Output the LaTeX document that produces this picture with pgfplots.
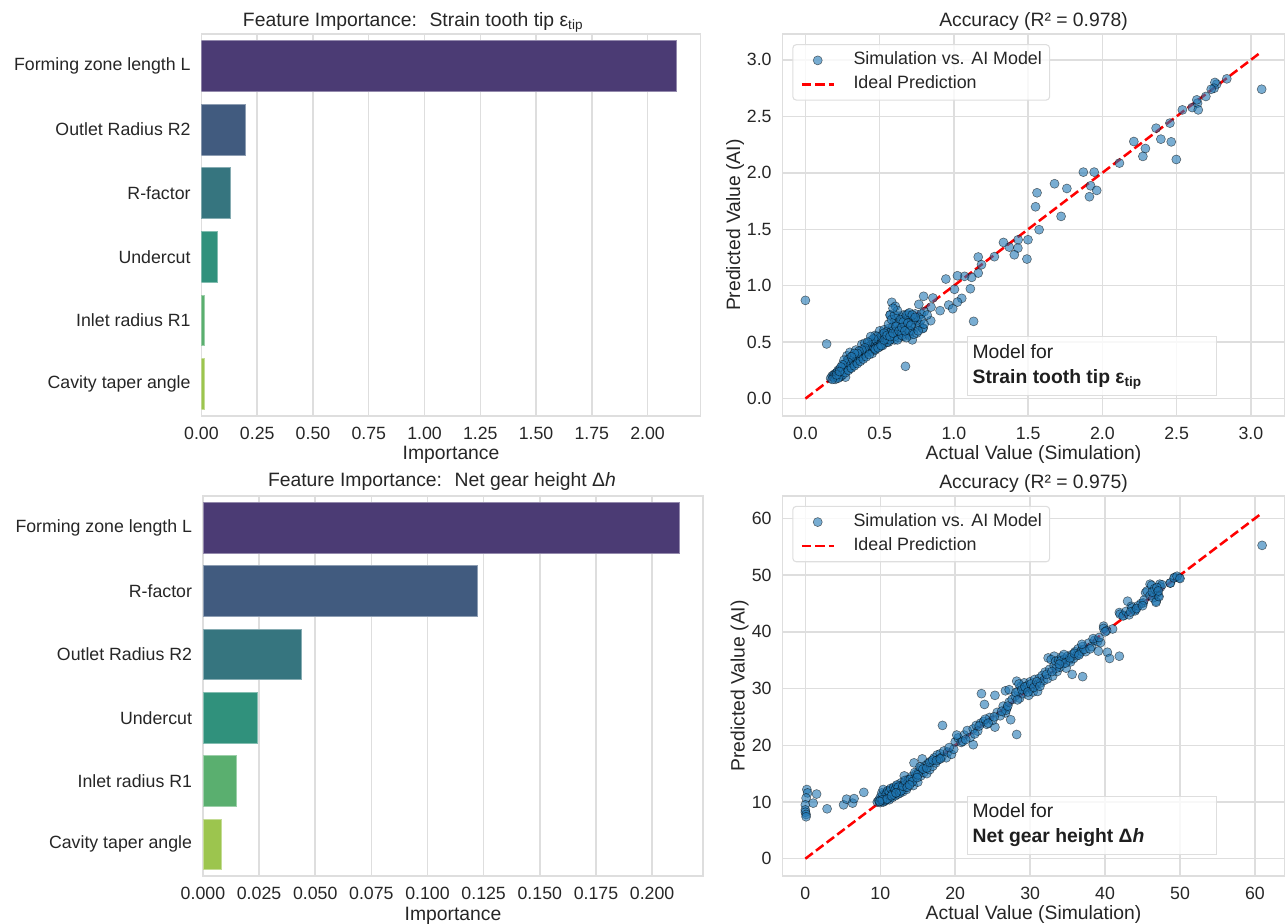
\documentclass[border=0pt]{standalone}
\usepackage{fontspec}
\setmainfont{Liberation Sans}
\usepackage{pgfplots}
\pgfplotsset{compat=1.18}
\definecolor{txt}{gray}{0.15}
\definecolor{gridc}{gray}{0.87}
\definecolor{mblue}{HTML}{1F77B4}
\definecolor{b1}{HTML}{4B3B74}
\definecolor{b2}{HTML}{415B7F}
\definecolor{b3}{HTML}{36757F}
\definecolor{b4}{HTML}{30917C}
\definecolor{b5}{HTML}{5AAF6F}
\definecolor{b6}{HTML}{9CC54E}
\tikzset{
 annbox/.style={draw=gridc, line width=0.8pt, fill=white, fill opacity=0.8, text opacity=1,
   anchor=south west, minimum width=187pt, minimum height=44pt, inner sep=0pt},
 anntext/.style={anchor=base west, inner sep=0pt, font=\fontsize{14.5}{17}\selectfont, text=black!88},
}
\pgfplotsset{
 base/.style={scale only axis, anchor=south west,
   axis line style={draw=gridc, line width=1.2pt},
   major tick length=0pt,
   grid style={draw=gridc, line width=1.1pt},
   tick label style={font=\fontsize{13.3}{16}\selectfont, text=txt},
   x tick label style={anchor=base, inner sep=0pt, yshift=-17.5pt},
   y tick label style={anchor=east, inner sep=0pt, xshift=-8pt},
   label style={font=\fontsize{14.5}{17}\selectfont, text=txt},
   xlabel style={at={(axis description cs:0.5,0)}, anchor=base, yshift=-33pt},
   title style={font=\fontsize{14.5}{17}\selectfont, text=txt},
   /pgf/number format/assume math mode=true,
   scaled x ticks=false, scaled y ticks=false,
 },
 barax/.style={base, xbar, bar width=0.8, bar shift=0pt,
   ymin=-0.5, ymax=5.5, y dir=reverse, xmin=0, xmajorgrids,
   ytick={0,1,2,3,4,5}, xlabel={Importance}},
 scat/.style={base, grid=major,
   xlabel={Actual Value (Simulation)}, ylabel={Predicted Value (AI)},
   title style={at={(axis description cs:0.5,1)}, anchor=base, yshift=-0.5pt},
   legend cell align=left,
   legend style={at={(axis description cs:0.0195,0.974)}, anchor=north west,
     draw=gridc, line width=0.8pt, rounded corners=2.5pt, fill=white,
     fill opacity=0.8, text opacity=1, draw opacity=1,
     font=\fontsize{13.4}{16}\selectfont, text=txt,
     inner xsep=5.8pt, inner ysep=5.5pt, row sep=5.5pt, column sep=14pt,
     nodes={inner sep=0pt, text height=9.6pt, text depth=2.9pt}},
   legend image code/.code={\draw[mark repeat=2,mark phase=2,#1] plot coordinates {(0pt,0pt) (11.9pt,0pt) (23.8pt,0pt)};}},
 pts/.style={only marks, mark=*, mark size=3.4pt,
   mark options={fill=mblue, fill opacity=0.6, draw=black, draw opacity=0.55, line width=0.4pt}},
 ideal/.style={draw=red, line width=1.9pt, dash pattern=on 7pt off 3pt},
}
\begin{document}
\begin{tikzpicture}
\useasboundingbox (0pt,0pt) rectangle (964.5pt,693pt);

% ---------- top left: feature importance (strain) ----------
\begin{axis}[barax, at={(151.1pt,381.2pt)}, width=374.4pt, height=286.1pt,
  xmax=2.238,
  xtick={0,0.25,0.5,0.75,1,1.25,1.5,1.75,2},
  xticklabel style={/pgf/number format/.cd, fixed, fixed zerofill, precision=2},
  yticklabels={Forming zone length L, Outlet Radius R2, R-factor, Undercut, Inlet radius R1, Cavity taper angle},
  title={Feature Importance:~ Strain tooth tip ε\textsubscript{tip}},
  title style={at={(axis description cs:0.0737,1)}, anchor=base west, yshift=-0.3pt}]
\addplot[fill=b1, draw=b1!60!white, line width=0.5pt] coordinates {(2.131,0)};
\addplot[fill=b2, draw=b2!60!white, line width=0.5pt] coordinates {(0.198,1)};
\addplot[fill=b3, draw=b3!60!white, line width=0.5pt] coordinates {(0.129,2)};
\addplot[fill=b4, draw=b4!60!white, line width=0.5pt] coordinates {(0.069,3)};
\addplot[fill=b5, draw=b5!60!white, line width=0.5pt] coordinates {(0.012,4)};
\addplot[fill=b6, draw=b6!60!white, line width=0.5pt] coordinates {(0.011,5)};
\end{axis}

% ---------- bottom left: feature importance (gear height) ----------
\begin{axis}[barax, at={(152.2pt,36.0pt)}, width=375.1pt, height=284.9pt,
  xmax=0.2227,
  xtick={0,0.025,0.05,0.075,0.1,0.125,0.15,0.175,0.2},
  xticklabel style={/pgf/number format/.cd, fixed, fixed zerofill, precision=3},
  yticklabels={Forming zone length L, R-factor, Outlet Radius R2, Undercut, Inlet radius R1, Cavity taper angle},
  title={Feature Importance:~ Net gear height Δ\textit{h}},
  title style={at={(axis description cs:0.1208,1)}, anchor=base west, yshift=1.5pt}]
\addplot[fill=b1, draw=b1!60!white, line width=0.5pt] coordinates {(0.2120,0)};
\addplot[fill=b2, draw=b2!60!white, line width=0.5pt] coordinates {(0.1220,1)};
\addplot[fill=b3, draw=b3!60!white, line width=0.5pt] coordinates {(0.0438,2)};
\addplot[fill=b4, draw=b4!60!white, line width=0.5pt] coordinates {(0.0243,3)};
\addplot[fill=b5, draw=b5!60!white, line width=0.5pt] coordinates {(0.0148,4)};
\addplot[fill=b6, draw=b6!60!white, line width=0.5pt] coordinates {(0.0083,5)};
\end{axis}

% ---------- top right: accuracy (strain) ----------
\begin{axis}[scat, at={(586.9pt,381.0pt)}, width=376.5pt, height=286.3pt,
  xmin=-0.154, xmax=3.227, ymin=-0.154, ymax=3.227,
  xtick={0,0.5,1,1.5,2,2.5,3}, ytick={0,0.5,1,1.5,2,2.5,3},
  xticklabel style={/pgf/number format/.cd, fixed, fixed zerofill, precision=1},
  yticklabel style={/pgf/number format/.cd, fixed, fixed zerofill, precision=1},
  ylabel style={at={(axis description cs:-0.0847,0.5)}, anchor=base},
  title={Accuracy (R² = 0.978)}]
\addplot[pts] coordinates {
(0.000,0.870) (0.143,0.484) (0.674,0.286) (1.133,0.684) (3.073,2.740) (2.838,2.832)
(2.770,2.785) (2.758,2.800) (2.753,2.749) (2.733,2.740) (2.697,2.676) (2.605,2.578)
(2.641,2.617) (2.646,2.557) (2.636,2.646) (2.539,2.557) (2.455,2.440) (2.362,2.395)
(2.394,2.298) (2.464,2.274) (2.498,2.118) (2.212,2.277) (2.290,2.215) (2.273,2.145)
(2.115,2.086) (1.872,2.006) (1.945,2.006) (1.921,1.885) (1.962,1.844) (1.913,1.788)
(1.678,1.903) (1.761,1.861) (1.560,1.823) (1.550,1.699) (1.574,1.496) (1.722,1.614)
(1.499,1.407) (1.492,1.236) (1.433,1.407) (1.431,1.333) (1.407,1.274) (1.373,1.342)
(1.334,1.383) (1.273,1.257) (1.164,1.254) (1.186,1.186) (1.164,1.112) (1.120,1.074)
(1.072,1.083) (1.024,1.088) (1.111,0.973) (1.004,0.968) (0.946,1.059) (1.053,0.888)
(1.024,0.855) (0.965,0.829) (0.992,0.796) (0.907,0.779) (0.846,0.811) (0.796,0.906)
(0.764,0.835) (0.844,0.690) (0.793,0.625) (0.859,0.891) (0.582,0.853) (0.606,0.817)
(0.572,0.743)
(0.17,0.18) (0.18,0.20) (0.19,0.19) (0.19,0.21) (0.20,0.20) (0.20,0.22) (0.21,0.19)
(0.21,0.23) (0.22,0.21) (0.22,0.25) (0.23,0.22) (0.23,0.26) (0.24,0.24) (0.24,0.20)
(0.25,0.27) (0.25,0.23) (0.26,0.25) (0.26,0.30) (0.27,0.19) (0.27,0.28) (0.28,0.26)
(0.28,0.33) (0.28,0.38) (0.29,0.29) (0.29,0.35) (0.30,0.27) (0.30,0.41) (0.31,0.32)
(0.31,0.29) (0.32,0.34) (0.32,0.38) (0.33,0.31) (0.33,0.36) (0.34,0.33) (0.34,0.43)
(0.35,0.37) (0.35,0.34) (0.36,0.39) (0.36,0.35) (0.37,0.40) (0.37,0.37) (0.38,0.48)
(0.38,0.39) (0.39,0.42) (0.39,0.37) (0.40,0.49) (0.40,0.41) (0.41,0.44) (0.41,0.40)
(0.42,0.46) (0.42,0.42) (0.43,0.50) (0.43,0.44) (0.44,0.47) (0.44,0.42) (0.45,0.52)
(0.45,0.45) (0.46,0.49) (0.46,0.44) (0.47,0.56) (0.47,0.48) (0.48,0.51) (0.48,0.46)
(0.49,0.53) (0.49,0.48) (0.50,0.60) (0.50,0.51) (0.51,0.55) (0.51,0.49) (0.52,0.57)
(0.52,0.52) (0.53,0.61) (0.53,0.49) (0.54,0.55) (0.54,0.51) (0.55,0.59) (0.55,0.53)
(0.56,0.62) (0.56,0.50) (0.57,0.57) (0.57,0.74) (0.58,0.60) (0.58,0.53) (0.59,0.64)
(0.59,0.56) (0.60,0.68) (0.60,0.52) (0.61,0.60) (0.61,0.71) (0.62,0.58) (0.62,0.66)
(0.63,0.54) (0.63,0.73) (0.64,0.62) (0.64,0.57) (0.65,0.69) (0.65,0.60) (0.66,0.74)
(0.66,0.55) (0.67,0.64) (0.67,0.71) (0.68,0.58) (0.68,0.70) (0.69,0.62) (0.69,0.75)
(0.70,0.56) (0.70,0.68) (0.71,0.73) (0.71,0.60) (0.72,0.66) (0.72,0.52) (0.73,0.70)
(0.74,0.63) (0.74,0.75) (0.75,0.58) (0.75,0.69) (0.76,0.72) (0.77,0.65) (0.78,0.75)
(0.79,0.62) (0.80,0.77) (0.82,0.74)
(0.45,0.40) (0.47,0.43) (0.50,0.46) (0.52,0.47) (0.55,0.50) (0.57,0.52) (0.60,0.55)
(0.62,0.52) (0.65,0.56) (0.68,0.54) (0.70,0.60) (0.73,0.57) (0.76,0.60) (0.78,0.70)
(0.80,0.66) (0.56,0.66) (0.58,0.70) (0.60,0.74) (0.62,0.78) (0.59,0.80) (0.64,0.70)
(0.66,0.68) (0.68,0.74) (0.70,0.76) (0.72,0.74) (0.74,0.72) (0.53,0.58) (0.48,0.55)
(0.46,0.53) (0.44,0.55) (0.42,0.50) (0.40,0.45) (0.38,0.43) (0.36,0.42) (0.35,0.40)
(0.33,0.40) (0.31,0.37) (0.29,0.32) (0.27,0.31) (0.26,0.34) (0.25,0.30) (0.24,0.28)
(0.23,0.19) (0.25,0.21) (0.27,0.23) (0.29,0.25) (0.31,0.27) (0.33,0.29) (0.35,0.31)
(0.37,0.33) (0.39,0.35) (0.41,0.37) (0.43,0.39) (0.47,0.44) (0.49,0.45) (0.51,0.47)
(0.53,0.52) (0.55,0.56) (0.57,0.55) (0.59,0.58) (0.61,0.64) (0.63,0.60) (0.65,0.63)
(0.67,0.60) (0.69,0.67) (0.71,0.65) (0.20,0.17) (0.22,0.18) (0.18,0.17) (0.21,0.21)
(0.23,0.24)
};
\addlegendentry{Simulation vs. AI Model}
\addplot[ideal] coordinates {(0,0) (3.073,3.073)};
\addlegendentry{Ideal Prediction}
\node[annbox] (a1) at (axis description cs:0.367,0.052) {};
\node[anntext] at ([xshift=4.2pt,yshift=-16.5pt]a1.north west) {Model for};
\node[anntext] at ([xshift=4.2pt,yshift=-35.2pt]a1.north west) {\bfseries Strain tooth tip ε\textsubscript{tip}};
\end{axis}

% ---------- bottom right: accuracy (gear height) ----------
\begin{axis}[scat, at={(586.9pt,36.0pt)}, width=376.5pt, height=285pt,
  xmin=-3.045, xmax=63.945, ymin=-3.045, ymax=63.945,
  xtick={0,10,20,30,40,50,60}, ytick={0,10,20,30,40,50,60},
  ylabel style={at={(axis description cs:-0.0757,0.5)}, anchor=base},
  title={Accuracy (R² = 0.975)}]
\addplot[pts] coordinates {
(60.95,55.24) (0.2,12.2) (0.3,11.6) (0.1,10.7) (0.0,9.5) (0.0,8.6) (0.0,8.2) (0.1,7.8)
(0.1,7.4) (1.05,9.8) (1.5,11.4) (2.9,8.8) (5.1,9.5) (5.5,10.5) (6.3,9.8) (6.5,10.6)
(7.8,11.7) (18.3,23.5) (28.2,21.9) (22.4,20.1) (25.3,23.2) (23.5,29.1) (23.9,27.2)
(25.3,28.8) (26.7,29.6) (27.2,29.8) (26.7,25.7) (27.4,24.5) (26.9,26.6) (37.0,32.1)
(35.6,32.5) (39.1,36.6) (40.3,36.4) (40.6,35.3) (41.9,35.7) (41.0,40.5) (39.8,41.0)
(32.4,35.4) (33.2,35.7) (49.9,49.5) (49.3,49.6) (48.7,48.6) (47.3,48.4) (46.0,48.4)
(45.4,46.9) (46.6,46.6) (46.8,45.4) (47.1,46.3) (45.1,45.1) (43.0,45.4) (43.5,44.5)
(44.0,43.9) (41.9,43.4) (42.5,42.9)
(9.6,10.0) (9.8,10.3) (10.0,9.9) (10.1,10.5) (10.2,10.2) (10.3,11.2) (10.4,10.0)
(10.5,10.7) (10.6,11.5) (10.7,10.3) (10.8,10.9) (10.9,11.8) (11.0,10.6) (11.1,11.2)
(11.2,10.4) (11.3,12.1) (11.4,11.0) (11.5,11.6) (11.6,10.8) (11.7,12.3) (11.8,11.3)
(11.9,12.0) (12.0,11.1) (12.1,12.5) (12.2,11.7) (12.3,12.9) (12.4,11.4) (12.5,12.2)
(12.6,12.8) (12.7,11.9) (12.8,13.4) (12.9,12.4) (13.0,11.8) (13.1,13.0) (13.2,14.6)
(13.3,12.6) (13.4,13.6) (13.5,12.2) (13.6,13.2) (13.8,14.0) (14.0,13.3) (14.2,14.5)
(14.4,12.9) (14.5,16.9) (14.6,14.2) (14.8,15.0) (15.0,13.5) (15.2,15.5) (15.4,14.6)
(15.5,16.0) (15.6,17.6) (15.8,15.2) (16.0,16.4) (16.2,15.0) (16.4,16.8) (16.6,15.7)
(16.8,17.2) (17.0,16.3) (17.2,17.8) (17.4,16.9) (17.6,18.3) (17.8,17.5) (18.0,18.5)
(18.2,17.9) (18.5,19.0) (18.8,17.8) (19.0,18.8) (19.5,18.4) (20.0,20.6) (20.4,21.3)
(20.8,20.5) (21.2,21.8) (21.6,22.6) (22.0,21.4) (22.4,22.9) (22.8,23.5) (23.0,22.5)
(23.4,23.9) (23.8,24.2) (24.2,23.7) (24.6,24.9) (25.0,24.4) (25.6,25.8) (26.0,25.2)
(26.4,26.9) (26.8,26.2) (27.2,27.6) (27.6,28.1) (28.0,28.7) (28.2,31.3) (28.4,29.5)
(28.6,28.3) (28.8,30.4) (29.0,29.1) (29.2,31.0) (29.4,29.8) (29.6,30.5) (29.8,28.8)
(30.0,31.2) (30.2,30.0) (30.4,29.4) (30.6,31.6) (30.8,30.6) (31.0,29.5) (31.2,31.8)
(31.4,31.0) (31.6,32.3) (31.8,31.4) (32.0,32.9) (32.3,31.7) (32.6,33.4) (32.8,35.1)
(33.0,32.2) (33.2,34.0) (33.4,34.8) (33.6,33.0) (33.8,35.0) (34.0,33.8) (34.2,35.6)
(34.4,34.4) (34.6,35.2) (34.8,33.6) (35.0,35.7) (35.2,35.0) (35.4,34.7) (35.6,36.0)
(35.8,35.3) (36.0,36.5) (36.2,35.8) (36.4,37.0) (36.6,36.2) (36.8,36.6) (37.0,37.4)
(37.4,36.5) (37.8,38.0) (38.2,37.4) (38.6,38.5) (39.0,38.3) (39.4,38.1) (39.8,40.6)
(40.2,40.2) (42.0,43.1) (42.4,42.8) (42.8,43.6) (43.2,43.0) (43.6,44.2) (44.0,43.7)
(44.4,44.6) (44.8,45.0) (45.2,45.6) (45.6,47.2) (46.0,46.4) (46.2,48.2) (46.4,46.0)
(46.6,47.6) (46.8,45.2) (47.0,46.9) (47.2,46.2) (47.4,47.9) (47.6,48.3) (48.7,48.6)
(49.2,49.5) (49.6,49.8) (50.0,49.4)
(10.0,10.8) (10.2,11.6) (10.4,12.2) (10.6,10.2) (10.8,11.4) (11.0,12.0) (11.2,11.8)
(11.4,12.4) (11.6,11.4) (11.8,12.6) (12.0,12.2) (12.2,13.0) (12.4,12.6) (12.6,11.6)
(12.8,12.0) (13.0,12.8) (13.3,13.8) (13.6,12.6) (14.0,14.0) (14.3,13.6) (14.6,15.2)
(15.0,14.8) (15.3,16.2) (15.7,15.8) (16.2,16.0) (16.6,17.0) (17.0,17.4) (17.5,17.3)
(18.0,17.6) (22.6,22.0) (23.2,23.4) (24.0,24.6) (24.4,23.9) (25.2,25.0) (28.1,29.3)
(28.3,28.0) (28.5,30.8) (28.9,29.8) (29.3,30.3) (29.7,29.4) (30.1,30.8) (30.5,30.2)
(30.9,31.2) (31.3,30.4) (33.5,33.6) (34.1,34.9) (34.7,34.5) (35.3,35.4) (35.9,36.2)
(36.5,35.9) (37.2,36.9) (38.0,37.0) (43.4,43.5) (44.2,44.1) (45.0,44.6) (46.3,47.0)
(46.9,47.8) (47.1,47.2) (10.3,10.4) (10.9,10.5) (11.5,11.1) (12.1,11.6) (9.9,10.1)
(13.9,13.0) (14.9,14.3) (19.8,19.3) (21.0,20.7) (26.2,26.0) (27.0,26.9) (32.2,32.5)
(32.9,33.0) (33.9,34.3) (34.5,36.0) (36.9,37.8) (38.4,38.8) (39.2,39.0) (40.0,40.0)
(20.2,21.8) (21.4,21.0) (19.2,19.6)
};
\addlegendentry{Simulation vs. AI Model}
\addplot[ideal] coordinates {(0,0) (60.9,60.9)};
\addlegendentry{Ideal Prediction}
\node[annbox] (a2) at (axis description cs:0.367,0.054) {};
\node[anntext] at ([xshift=4.2pt,yshift=-16.5pt]a2.north west) {Model for};
\node[anntext] at ([xshift=4.2pt,yshift=-35.2pt]a2.north west) {\bfseries Net gear height Δ\textit{h}};
\end{axis}
\end{tikzpicture}
\end{document}
